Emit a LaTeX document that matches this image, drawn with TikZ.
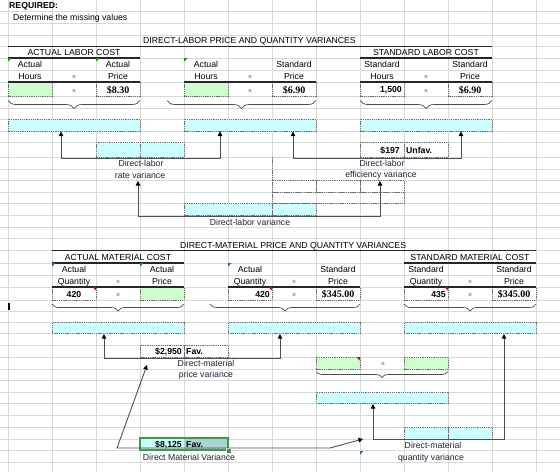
\documentclass[tikz,border=0pt]{standalone}
\usepackage{fontspec}
\setmainfont{Liberation Sans}
\newfontfamily\serifb{Liberation Serif}
\usetikzlibrary{arrows.meta,decorations.pathreplacing}
\definecolor{gridc}{HTML}{D8D8D8}
\definecolor{cyanc}{HTML}{CCFFFF}
\definecolor{greenc}{HTML}{CCFFCC}
\definecolor{dashc}{HTML}{707070}
\definecolor{conc}{HTML}{505050}
\definecolor{selc}{HTML}{3C9C44}
\definecolor{favc}{HTML}{A9D3D6}
\definecolor{labc}{HTML}{22223A}
\definecolor{redc}{HTML}{E00000}
\definecolor{grc}{HTML}{109010}
\newcommand\fs{\fontsize{8.7}{10}\selectfont}
\newcommand\fsx{\fontsize{7.5}{8}\selectfont}
\newcommand\fsp{\fontsize{10}{11}\selectfont\serifb\bfseries}
\begin{document}
\begin{tikzpicture}[x=1pt,y=-1pt,font=\fs,
  gridline/.style={draw=gridc, line width=0.7pt},
  cellb/.style={draw=dashc, line width=0.6pt, dash pattern=on 1.3pt off 0.9pt},
  thickrule/.style={line width=1.6pt, draw=black!85},
  conn/.style={draw=conc, line width=0.9pt, {Triangle[length=4.5pt,width=4.5pt,color=black]}-{Triangle[length=4.5pt,width=4.5pt,color=black]}},
  txt/.style={inner sep=0pt, anchor=base},
  lab/.style={inner sep=0pt, anchor=base, text=labc},
  val/.style={inner sep=0pt, anchor=base, font=\fs\bfseries},
  pval/.style={inner sep=0pt, anchor=base, font=\fsp},
  times/.style={inner sep=0pt, anchor=base, font=\fsx, text=black!60},
  bracest/.style={draw=black!70, line width=0.7pt, decorate, decoration={brace, mirror, amplitude=#1}},
  gtri/.style={fill=grc},
  rtri/.style={fill=redc}
]
\useasboundingbox (0,0) rectangle (560,472);
\fill[white] (0,0) rectangle (560,472);
% ---------- grid ----------
\foreach \x in {8,52,...,536} \draw[gridline] (\x,0) -- (\x,472);
\foreach \y in {11,23,35,46.5,58,70,82,96,108,119,131,142,157,169,180,192,203,215,227,238,250.5,263,275,287,300,311,322.5,333.5,345,357,369,380,392,403,415,427,439,450,462}
  \draw[gridline] (0,\y) -- (560,\y);
% ---------- fills ----------
\foreach \a/\b/\c/\d in {8/82/52/96, 184/82/228/96, 140/287/184/300, 316/357/360/369, 404/357/448/369}
  \fill[greenc] (\a,\b) rectangle (\c,\d);
\foreach \a/\b/\c/\d in {8/119/140/131, 184/119/316/131, 360/119/492/131, 96/142/184/157, 184/203/316/215,
  52/322.5/184/333.5, 228/322.5/360/333.5, 404/322.5/536/333.5, 316/392/448/403, 404/427/492/439, 140/438/184/450}
  \fill[cyanc] (\a,\b) rectangle (\c,\d);
\fill[favc] (184,438) rectangle (228,450);
% ---------- dashed cell borders ----------
\foreach \a/\b/\c/\d in {8/82/52/96, 96/82/140/96, 184/82/228/96, 272/82/316/96, 360/82/404/96, 448/82/492/96,
  8/119/140/131, 184/119/316/131, 360/119/492/131,
  96/142/140/157, 140/142/184/157, 360/142/404/157, 404/142/448/157,
  272/180/316/192, 316/180/360/192, 360/180/404/192, 272/192/404/203,
  184/203/272/215, 272/203/316/215,
  52/287/96/300, 140/287/184/300, 228/287/272/300, 316/287/360/300, 404/287/448/300, 492/287/536/300,
  52/322.5/184/333.5, 228/322.5/360/333.5, 404/322.5/536/333.5,
  140/345/184/357, 184/345/228/357, 316/357/360/369, 404/357/448/369,
  316/392/448/403, 404/427/448/439, 448/427/492/439}
  \draw[cellb] (\a,\b) rectangle (\c,\d);
\draw[cellb] (272,157) -- (272,180);
% ---------- thick rules ----------
\draw[thickrule] (8,46.5) -- (492,46.5);
\draw[thickrule] (8,58) -- (140,58);
\draw[thickrule] (360,58) -- (492,58);
\draw[thickrule] (8,82) -- (140,82);
\draw[thickrule] (184,82) -- (316,82);
\draw[thickrule] (360,82) -- (492,82);
\draw[thickrule] (52,250.5) -- (536,250.5);
\draw[thickrule] (52,263) -- (184,263);
\draw[thickrule] (404,263) -- (536,263);
\draw[thickrule] (52,287) -- (184,287);
\draw[thickrule] (228,287) -- (360,287);
\draw[thickrule] (404,287) -- (536,287);
% ---------- braces ----------
\draw[bracest=8pt] (8,100.5) -- (140,100.5);
\draw[bracest=8pt] (167,100.5) -- (316,100.5);
\draw[bracest=8pt] (360,100.5) -- (492,100.5);
\draw[bracest=7pt] (52,304) -- (184,304);
\draw[bracest=7pt] (210,304) -- (360,304);
\draw[bracest=7pt] (404,304) -- (536,304);
\draw[bracest=6pt] (316,371.5) -- (448,371.5);
% ---------- comment markers ----------
\foreach \x/\y in {8/58, 96/58, 184/58, 52/263, 140/263, 228/263, 360/451}
  \fill[gtri] (\x,\y) -- ++(3.5,0) -- ++(-3.5,3.5) -- cycle;
\foreach \x/\y in {96/287, 272/287, 448/287, 360/357}
  \fill[rtri] (\x,\y) -- ++(-3.5,0) -- ++(3.5,3.5) -- cycle;
\draw[line width=1.4pt] (9,303) -- (9,310);
% ---------- header texts ----------
\node[txt, anchor=base west, font=\fs\bfseries] (req) at (9,8.5) {REQUIRED:};
\node[txt, anchor=base west] (det) at (13,20.5) {Determine the missing values};
\node[txt, anchor=base west] (dlt) at (143,43.5) {DIRECT-LABOR PRICE AND QUANTITY VARIANCES};
\node[txt] (alc) at (74,55.5) {ACTUAL LABOR COST};
\node[txt] (slc) at (426,55.5) {STANDARD LABOR COST};
\node[txt] (h1) at (30,67.5) {Actual};
\node[txt] (h2) at (118,67.5) {Actual};
\node[txt] (h3) at (206,67.5) {Actual};
\node[txt] (h4) at (294,67.5) {Standard};
\node[txt] (h5) at (382,67.5) {Standard};
\node[txt] (h6) at (470,67.5) {Standard};
\node[txt] (g1) at (30,79.5) {Hours};
\node[times] (x1) at (74,79.5) {×};
\node[txt] (g2) at (118,79.5) {Price};
\node[txt] (g3) at (206,79.5) {Hours};
\node[times] (x2) at (250,79.5) {×};
\node[txt] (g4) at (294,79.5) {Price};
\node[txt] (g5) at (382,79.5) {Hours};
\node[times] (x3) at (426,79.5) {×};
\node[txt] (g6) at (470,79.5) {Price};
\node[times] (x4) at (74,93) {×};
\node[pval] (v1) at (118,93) {\$8.30};
\node[times] (x5) at (250,93) {×};
\node[pval] (v2) at (294,93) {\$6.90};
\node[val, anchor=base east] (v3) at (402,92.5) {1,500};
\node[times] (x6) at (426,93) {×};
\node[pval] (v4) at (470,93) {\$6.90};
% labor variance boxes
\node[val, anchor=base east] (b197) at (400,153) {\$197};
\node[val, anchor=base west] (bunf) at (406,153) {Unfav.};
\node[lab] (l1a) at (141,166.5) {Direct-labor};
\node[lab] (l1b) at (140,178) {rate variance};
\node[lab] (l2a) at (382,166.5) {Direct-labor};
\node[lab] (l2b) at (381,177.5) {efficiency variance};
\node[lab] (l3) at (250,225) {Direct-labor variance};
% ---------- material texts ----------
\node[txt, anchor=base west] (dmt) at (180,248) {DIRECT-MATERIAL PRICE AND QUANTITY VARIANCES};
\node[txt] (amc) at (118,260.5) {ACTUAL MATERIAL COST};
\node[txt] (smc) at (470,260.5) {STANDARD MATERIAL COST};
\node[txt] (m1) at (74,272.5) {Actual};
\node[txt] (m2) at (162,272.5) {Actual};
\node[txt] (m3) at (250,272.5) {Actual};
\node[txt] (m4) at (338,272.5) {Standard};
\node[txt] (m5) at (426,272.5) {Standard};
\node[txt] (m6) at (514,272.5) {Standard};
\node[txt] (n1) at (74,284.5) {Quantity};
\node[times] (x7) at (118,284.5) {×};
\node[txt] (n2) at (162,284.5) {Price};
\node[txt] (n3) at (250,284.5) {Quantity};
\node[times] (x8) at (294,284.5) {×};
\node[txt] (n4) at (338,284.5) {Price};
\node[txt] (n5) at (426,284.5) {Quantity};
\node[times] (x9) at (470,284.5) {×};
\node[txt] (n6) at (514,284.5) {Price};
\node[val] (w1) at (74,297) {420};
\node[times] (x10) at (118,297) {×};
\node[val, anchor=base east] (w2) at (270,297) {420};
\node[times] (x11) at (294,297) {×};
\node[pval] (w3) at (338,297.5) {\$345.00};
\node[val, anchor=base east] (w4) at (446,297) {435};
\node[times] (x12) at (470,297) {×};
\node[pval] (w5) at (514,297.5) {\$345.00};
\node[val, anchor=base east] (b2950) at (182,354.5) {\$2,950};
\node[val, anchor=base west] (bfav) at (186,354.5) {Fav.};
\node[lab] (p1a) at (206,366) {Direct-material};
\node[lab] (p1b) at (206,377.5) {price variance};
\node[times] (x13) at (383,366) {×};
\node[lab] (q1a) at (433,448) {Direct-material};
\node[lab] (q1b) at (431,460) {quantity variance};
\node[val, anchor=base east] (b8125) at (182,447.5) {\$8,125};
\node[val, anchor=base west] (bfav2) at (186,447.5) {Fav.};
\node[lab] (dmv) at (189,460.5) {Direct Material Variance};
% selection frame
\draw[selc, line width=1.6pt] (140,438) rectangle (228,450);
\filldraw[fill=selc, draw=white, line width=0.5pt] (226,448) rectangle (231,453);
% ---------- connectors ----------
\coordinate (ra) at (61,131.5);   \coordinate (rb) at (220,131.5);
\coordinate (ea) at (293,131.5);  \coordinate (eb) at (461,131.5);
\coordinate (va) at (138,181);    \coordinate (vb) at (380,181);
\coordinate (pa) at (104,334);    \coordinate (pb) at (280,334);
\coordinate (qa) at (373,404);    \coordinate (qb) at (504,334);
\coordinate (da) at (147,365);    \coordinate (db) at (363,439);
\draw[conn] (ra) -- (61,158) -- (220,158) -- (rb);
\draw[conn] (ea) -- (293,158) -- (461,158) -- (eb);
\draw[conn] (va) -- (138,216) -- (380,216) -- (vb);
\draw[conn] (pa) -- (104,358) -- (280,358) -- (pb);
\draw[conn] (qa) -- (373,439) -- (504,439) -- (qb);
\draw[conn] (da) -- (117,448) -- (330,448) -- (db);
\end{tikzpicture}
\end{document}
